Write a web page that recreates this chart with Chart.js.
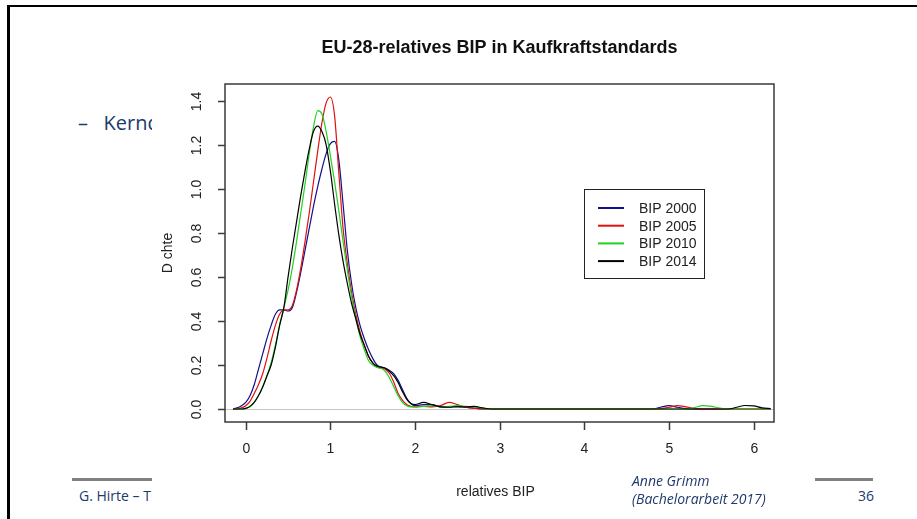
<!DOCTYPE html>
<html>
<head>
<meta charset="utf-8">
<script src="https://cdn.jsdelivr.net/npm/chart.js@4.4.1/dist/chart.umd.min.js"></script>
<style>
  html, body { margin: 0; padding: 0; background: #fff; }
  body { width: 917px; height: 519px; position: relative; overflow: hidden; font-family: "Open Sans", sans-serif; color: #203a6b; }
  .frame { position: absolute; left: 7px; top: 5px; width: 930px; height: 530px; border-top: 2px solid #000; border-left: 3px solid #000; }
  .txt { position: absolute; white-space: nowrap; line-height: 1; }
  .rule { position: absolute; height: 3px; background: #808080; }
  #chart { position: absolute; left: 0; top: 0; z-index: 1; }
  .top { z-index: 2; font-style: italic; font-size: 14px; }
</style>
</head>
<body>
<div class="frame"></div>
<div class="txt" style="left:78px; top:113px; font-size:20px;">–&nbsp;&nbsp;&nbsp;Kerndichteschätzung</div>
<div class="rule" style="left:72px; top:478px; width:80px;"></div>
<div class="txt" style="left:79px; top:489px; font-size:14px;">G. Hirte – TU Dresden</div>
<div class="rule" style="left:812px; top:478px; width:61px;"></div>
<div class="txt" style="left:858px; top:489px; font-size:14px;">36</div>
<canvas id="chart" width="917" height="519"></canvas>
<div class="txt top" style="left:632px; top:474px;">Anne Grimm</div>
<div class="txt top" style="left:632px; top:492px;">(Bachelorarbeit 2017)</div>
<script>
// Dichte-Schätzungen
const xs = [-0.15, -0.1, -0.05, 0, 0.05, 0.1, 0.15, 0.2, 0.25, 0.3,
  0.35, 0.4, 0.45, 0.5, 0.55, 0.6, 0.65, 0.7, 0.75, 0.8,
  0.85, 0.9, 0.95, 1.0, 1.05, 1.1, 1.15, 1.2, 1.25, 1.3,
  1.35, 1.4, 1.45, 1.5, 1.55, 1.6, 1.65, 1.7, 1.75, 1.8,
  1.85, 1.9, 1.95, 2.0, 2.1, 2.2, 2.3, 2.4, 2.5, 2.6,
  2.7, 2.8, 2.9, 3.5, 4.0, 4.5, 4.8, 4.9, 5.0, 5.1,
  5.2, 5.3, 5.4, 5.5, 5.6, 5.7, 5.8, 5.9, 6.0, 6.1, 6.2];

const bip2000 = [0, 0.005, 0.015, 0.03, 0.06, 0.11, 0.18, 0.25, 0.32, 0.38,
  0.43, 0.45, 0.45, 0.445, 0.46, 0.53, 0.62, 0.72, 0.82, 0.92,
  1.01, 1.09, 1.16, 1.205, 1.215, 1.13, 0.93, 0.72, 0.57, 0.46,
  0.38, 0.32, 0.27, 0.23, 0.2, 0.19, 0.185, 0.175, 0.16, 0.13,
  0.09, 0.05, 0.025, 0.015, 0.02, 0.02, 0.01, 0.01, 0.012, 0.008,
  0.004, 0.001, 0, 0, 0, 0, 0, 0.008, 0.015, 0.008,
  0.002, 0, 0, 0, 0, 0, 0, 0, 0, 0, 0];

const bip2005 = [0, 0, 0.005, 0.015, 0.035, 0.07, 0.11, 0.16, 0.23, 0.31,
  0.38, 0.43, 0.45, 0.45, 0.47, 0.54, 0.64, 0.76, 0.89, 1.03,
  1.17, 1.30, 1.39, 1.417, 1.33, 1.07, 0.82, 0.66, 0.53, 0.43,
  0.35, 0.29, 0.24, 0.21, 0.19, 0.185, 0.18, 0.16, 0.12, 0.07,
  0.04, 0.02, 0.012, 0.01, 0.012, 0.01, 0.015, 0.03, 0.02, 0.008,
  0.003, 0, 0, 0, 0, 0, 0, 0.002, 0.008, 0.015,
  0.01, 0.003, 0, 0, 0, 0, 0, 0, 0, 0, 0];

const bip2010 = [0, 0, 0, 0.003, 0.01, 0.03, 0.06, 0.1, 0.15, 0.21,
  0.29, 0.38, 0.46, 0.54, 0.64, 0.76, 0.89, 1.02, 1.16, 1.28,
  1.355, 1.34, 1.26, 1.15, 1.03, 0.9, 0.76, 0.63, 0.51, 0.41,
  0.33, 0.27, 0.22, 0.2, 0.19, 0.185, 0.17, 0.14, 0.1, 0.06,
  0.03, 0.015, 0.01, 0.01, 0.012, 0.015, 0.01, 0.012, 0.015, 0.012,
  0.01, 0.004, 0, 0, 0, 0, 0, 0, 0, 0,
  0, 0.006, 0.015, 0.012, 0.004, 0, 0, 0, 0, 0, 0];

const bip2014 = [0, 0, 0, 0.003, 0.012, 0.03, 0.06, 0.1, 0.15, 0.2,
  0.28, 0.38, 0.46, 0.6, 0.73, 0.85, 0.97, 1.08, 1.18, 1.26,
  1.285, 1.26, 1.2, 1.08, 0.93, 0.79, 0.67, 0.57, 0.48, 0.41,
  0.34, 0.29, 0.24, 0.21, 0.195, 0.19, 0.185, 0.17, 0.15, 0.12,
  0.08, 0.045, 0.025, 0.02, 0.03, 0.02, 0.01, 0.008, 0.01, 0.01,
  0.012, 0.005, 0, 0, 0, 0, 0, 0, 0, 0,
  0, 0, 0, 0, 0, 0, 0.008, 0.016, 0.014, 0.005, 0.002];

const seriesNames = ['BIP 2000', 'BIP 2005', 'BIP 2010', 'BIP 2014'];
const xTicks = [0, 1, 2, 3, 4, 5, 6];
const yTicks = [0, 0.2, 0.4, 0.6, 0.8, 1.0, 1.2, 1.4];
const yTickLabels = ['0.0', '0.2', '0.4', '0.6', '0.8', '1.0', '1.2', '1.4'];

const colors = ['#10108a', '#e01010', '#22d022', '#000000'];
const RFONT = '"Liberation Sans", Arial, sans-serif';

function toPoints(ys) {
  return ys.map((y, i) => ({ x: xs[i], y: y }));
}

// R-artige Achsen, Titel und Legende
const rPlot = {
  id: 'rPlot',
  beforeDraw(chart) {
    const ctx = chart.ctx;
    ctx.save();
    ctx.fillStyle = '#fff';
    ctx.fillRect(152, 8, 663, 511); // Bildbereich
    ctx.restore();
  },
  beforeDatasetsDraw(chart) {
    const { ctx, chartArea: a, scales: { y } } = chart;
    const y0 = Math.round(y.getPixelForValue(0)) + 0.5;
    ctx.save();
    ctx.strokeStyle = '#c4c4c4';
    ctx.lineWidth = 1;
    ctx.beginPath();
    ctx.moveTo(a.left, y0);
    ctx.lineTo(a.right, y0);
    ctx.stroke();
    ctx.restore();
  },
  afterDatasetsDraw(chart) {
    const { ctx, chartArea: a, scales: { x, y } } = chart;
    ctx.save();
    ctx.strokeStyle = '#3a3a3a';
    ctx.lineWidth = 1.5;
    ctx.strokeRect(a.left, a.top, a.right - a.left, a.bottom - a.top);

    ctx.fillStyle = '#222';
    ctx.font = '14px ' + RFONT;
    ctx.textAlign = 'center';
    ctx.textBaseline = 'middle';

    // x-Achse
    xTicks.forEach(t => {
      const px = Math.round(x.getPixelForValue(t)) + 0.5;
      ctx.beginPath();
      ctx.moveTo(px, a.bottom);
      ctx.lineTo(px, a.bottom + 8);
      ctx.stroke();
      ctx.fillText(String(t), px, a.bottom + 27);
    });

    // y-Achse, Beschriftung gedreht
    yTicks.forEach((t, i) => {
      const py = Math.round(y.getPixelForValue(t)) + 0.5;
      ctx.beginPath();
      ctx.moveTo(a.left - 7, py);
      ctx.lineTo(a.left, py);
      ctx.stroke();
      ctx.save();
      ctx.translate(a.left - 28, py);
      ctx.rotate(-Math.PI / 2);
      ctx.fillText(yTickLabels[i], 0, 0);
      ctx.restore();
    });

    // Achsentitel
    const cx = (a.left + a.right) / 2;
    const cy = (a.top + a.bottom) / 2;
    ctx.fillText('relatives BIP', cx - 4, a.bottom + 70);
    ctx.save();
    ctx.translate(a.left - 57, cy);
    ctx.rotate(-Math.PI / 2);
    ctx.fillText('D chte', 0, 0);
    ctx.restore();

    // Titel
    ctx.font = 'bold 18px ' + RFONT;
    ctx.fillStyle = '#111';
    ctx.fillText('EU-28-relatives BIP in Kaufkraftstandards', cx, 48);

    // Legende
    const lx = 584.5, ly = 189.5, lw = 120, lh = 89;
    ctx.fillStyle = '#fff';
    ctx.fillRect(lx, ly, lw, lh);
    ctx.strokeStyle = '#222';
    ctx.lineWidth = 1;
    ctx.strokeRect(lx, ly, lw, lh);
    ctx.font = '14px ' + RFONT;
    ctx.textAlign = 'left';
    seriesNames.forEach((name, i) => {
      const ry = 208 + i * 17.7;
      ctx.strokeStyle = colors[i];
      ctx.lineWidth = 2;
      ctx.beginPath();
      ctx.moveTo(598, ry);
      ctx.lineTo(624, ry);
      ctx.stroke();
      ctx.fillStyle = '#222';
      ctx.fillText(name, 639, ry + 1);
    });
    ctx.restore();
  }
};

new Chart(document.getElementById('chart'), {
  type: 'line',
  data: {
    datasets: [
      { label: seriesNames[0], data: toPoints(bip2000), borderColor: colors[0], order: 4 },
      { label: seriesNames[1], data: toPoints(bip2005), borderColor: colors[1], order: 3 },
      { label: seriesNames[2], data: toPoints(bip2010), borderColor: colors[2], order: 2 },
      { label: seriesNames[3], data: toPoints(bip2014), borderColor: colors[3], order: 1 }
    ]
  },
  options: {
    responsive: false,
    animation: false,
    devicePixelRatio: 1,
    events: [],
    layout: { padding: { left: 225, right: 143, top: 84, bottom: 97 } },
    elements: {
      point: { radius: 0 },
      line: { borderWidth: 1.2, cubicInterpolationMode: 'monotone', fill: false }
    },
    scales: {
      x: { type: 'linear', min: -0.245, max: 6.24, display: false },
      y: { type: 'linear', min: -0.059, max: 1.476, display: false }
    },
    plugins: {
      legend: { display: false },
      tooltip: { enabled: false },
      title: { display: false }
    }
  },
  plugins: [rPlot]
});
</script>
</body>
</html>
